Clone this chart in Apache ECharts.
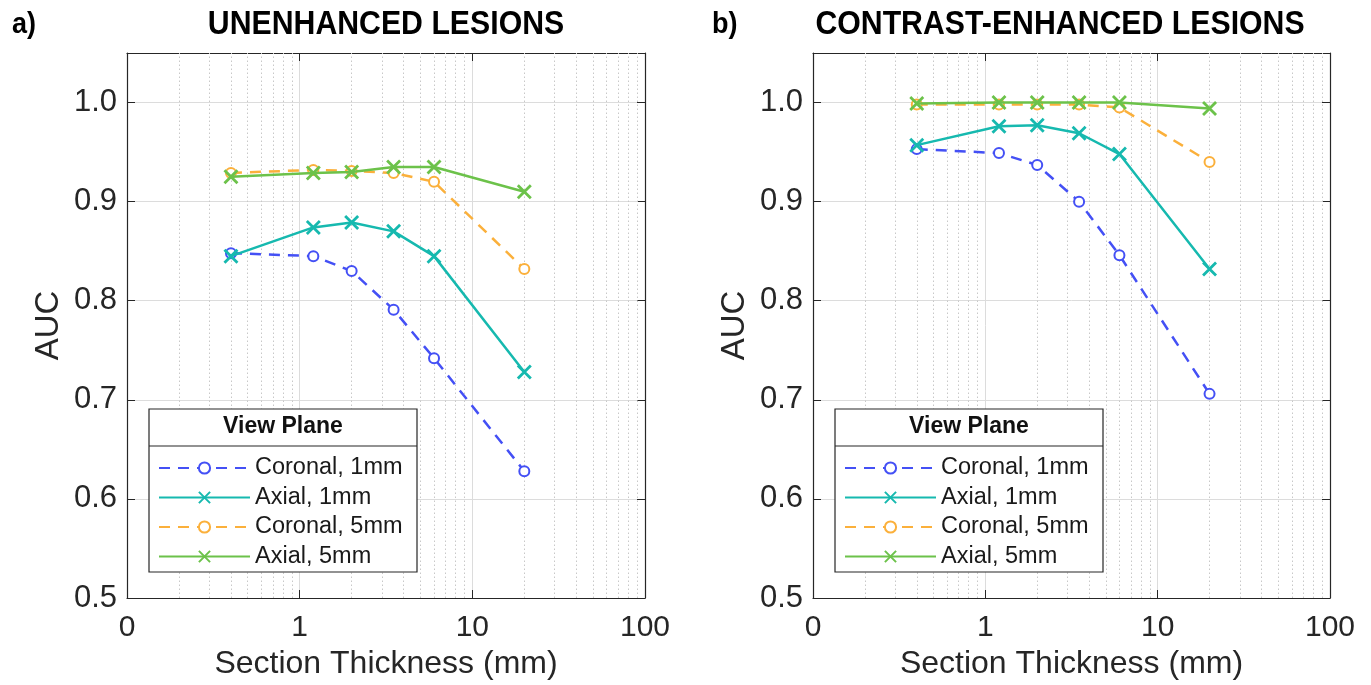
<!DOCTYPE html>
<html>
<head>
<meta charset="utf-8">
<script src="https://cdn.jsdelivr.net/npm/echarts@6/dist/echarts.min.js"></script>
<style>html,body{margin:0;padding:0;background:#fff}#c{width:1371px;height:685px}</style>
</head>
<body>
<div id="c"></div>
<script>
// ---- data ----
const thickness = [0.4, 1.2, 2, 3.5, 6, 20];
const seriesNames = ['Coronal, 1mm', 'Axial, 1mm', 'Coronal, 5mm', 'Axial, 5mm'];
const unenhCoronal1 = [0.848, 0.845, 0.830, 0.791, 0.742, 0.628];
const unenhAxial1   = [0.845, 0.874, 0.879, 0.870, 0.845, 0.728];
const unenhCoronal5 = [0.929, 0.932, 0.931, 0.929, 0.920, 0.832];
const unenhAxial5   = [0.925, 0.929, 0.930, 0.935, 0.935, 0.910];
const contCoronal1  = [0.953, 0.949, 0.937, 0.900, 0.846, 0.706];
const contAxial1    = [0.957, 0.976, 0.977, 0.969, 0.948, 0.832];
const contCoronal5  = [0.998, 0.998, 0.998, 0.998, 0.995, 0.940];
const contAxial5    = [0.999, 1.000, 1.000, 1.000, 1.000, 0.994];
const minorTicks = [0.2,0.3,0.4,0.5,0.6,0.7,0.8,0.9,2,3,4,5,6,7,8,9,20,30,40,50,60,70,80,90];
const panelTitles = ['UNENHANCED LESIONS', 'CONTRAST-ENHANCED LESIONS'];
const panelLetters = ['a)', 'b)'];
const xTitle = 'Section Thickness (mm)';
const yTitle = 'AUC';
const legendTitle = 'View Plane';

// ---- style ----
const FONT = "'Liberation Sans', Arial, Helvetica, sans-serif";
const colors = ['#4450F5', '#16B9AF', '#FBB03B', '#6CC24A'];
const CROSS = 'path://M0,0L10,10M10,0L0,10';
const grids = [
  {left: 127, top: 53, width: 518, height: 547},
  {left: 813, top: 53, width: 517, height: 547}
];
const panelData = [
  [unenhCoronal1, unenhAxial1, unenhCoronal5, unenhAxial5],
  [contCoronal1, contAxial1, contCoronal5, contAxial5]
];

const xAxes = [], yAxes = [], series = [], legends = [], graphics = [];
grids.forEach((g, p) => {
  const xi = p * 2, yi = p * 2;
  xAxes.push({
    type: 'log', logBase: 10, min: 0.1, max: 100, gridIndex: p,
    name: xTitle, nameLocation: 'middle', nameGap: 50,
    nameTextStyle: {fontFamily: FONT, fontSize: 32, color: '#262626'},
    axisLine: {lineStyle: {color: '#262626', width: 1.2}},
    axisTick: {inside: true, length: 8, lineStyle: {color: '#262626'}},
    axisLabel: {fontFamily: FONT, fontSize: 30, color: '#262626', margin: 15,
      formatter: v => v < 0.5 ? '0' : String(Math.round(v))},
    splitLine: {show: true, lineStyle: {color: '#dcdcdc', width: 1}}
  });
  xAxes.push({
    type: 'log', logBase: 10, min: 0.1, max: 100, gridIndex: p, position: 'top',
    axisLine: {lineStyle: {color: '#262626', width: 1.2}},
    axisTick: {inside: true, length: 8, lineStyle: {color: '#262626'}},
    axisLabel: {show: false}, splitLine: {show: false}
  });
  yAxes.push({
    type: 'value', min: 0.5, max: 1.05, interval: 0.1, gridIndex: p,
    name: yTitle, nameLocation: 'middle', nameGap: 62,
    nameTextStyle: {fontFamily: FONT, fontSize: 33, color: '#262626'},
    axisLine: {show: true, lineStyle: {color: '#262626', width: 1.2}},
    axisTick: {show: true, inside: true, length: 8, lineStyle: {color: '#262626'}},
    axisLabel: {fontFamily: FONT, fontSize: 31, color: '#262626', margin: 10,
      formatter: v => v > 1.001 ? '' : v.toFixed(1)},
    splitLine: {show: true, lineStyle: {color: '#dcdcdc', width: 1}}
  });
  yAxes.push({
    type: 'value', min: 0.5, max: 1.05, interval: 0.1, gridIndex: p, position: 'right',
    axisLine: {show: true, lineStyle: {color: '#262626', width: 1.2}},
    axisTick: {show: true, inside: true, length: 8, lineStyle: {color: '#262626'}},
    axisLabel: {show: false}, splitLine: {show: false}
  });
  // minor dotted grid lines via library scale
  series.push({
    type: 'line', xAxisIndex: xi, yAxisIndex: yi, data: [], silent: true,
    markLine: {
      silent: true, symbol: ['none', 'none'], label: {show: false},
      lineStyle: {color: '#c8c8c8', width: 1, type: [1.5, 2.5]},
      data: minorTicks.map(v => ({xAxis: v})), animation: false
    }
  });
  panelData[p].forEach((arr, k) => {
    const isCor = k % 2 === 0;
    series.push({
      name: seriesNames[k], type: 'line', xAxisIndex: xi, yAxisIndex: yi,
      data: thickness.map((t, i) => [t, arr[i]]),
      symbol: isCor ? 'emptyCircle' : CROSS,
      symbolSize: isCor ? 10 : 13,
      lineStyle: {color: colors[k], width: 2.5, type: isCor ? [11, 8] : 'solid'},
      itemStyle: isCor ? {color: colors[k], borderColor: colors[k], borderWidth: 2.2}
                       : {color: colors[k], borderColor: colors[k], borderWidth: 2.8},
      z: 5 + (k === 1 || k === 3 ? 1 : 0)
    });
  });
  // legend box
  const bx = g.left + 22, by = 409, bw = 268, bh = 163;
  graphics.push({type: 'rect', z: 50, shape: {x: bx, y: by, width: bw, height: bh},
    style: {fill: '#fff', stroke: '#262626', lineWidth: 1.2}});
  graphics.push({type: 'line', z: 51, shape: {x1: bx, y1: 446, x2: bx + bw, y2: 446},
    style: {stroke: '#262626', lineWidth: 1.2}});
  graphics.push({type: 'text', z: 51, x: bx + bw / 2, y: 427,
    style: {text: legendTitle, fontFamily: FONT, fontSize: 23, fontWeight: 'bold', fill: '#111',
      align: 'center', verticalAlign: 'middle'}});
  legends.push({
    data: seriesNames, orient: 'vertical', left: bx + 4, top: 451, z: 60,
    itemWidth: 91, itemHeight: 14, itemGap: 5.5, selectedMode: false,
    textStyle: {fontFamily: FONT, fontSize: 23.5, color: '#1a1a1a', lineHeight: 23}
  });
  // panel titles
  const cx = p === 0 ? 386 : 1060;
  graphics.push({type: 'text', x: cx, y: 25, scaleX: 0.89,
    style: {text: panelTitles[p], fontFamily: FONT, fontSize: 34, fontWeight: 'bold', fill: '#000',
      align: 'center', verticalAlign: 'middle'}});
  graphics.push({type: 'text', x: p === 0 ? 12 : 712, y: 25, scaleX: 0.9,
    style: {text: panelLetters[p], fontFamily: FONT, fontSize: 30, fontWeight: 'bold', fill: '#000',
      align: 'left', verticalAlign: 'middle'}});
});

const chart = echarts.init(document.getElementById('c'), null, {renderer: 'canvas'});
chart.setOption({
  animation: false,
  backgroundColor: '#fff',
  grid: grids.map(g => Object.assign({containLabel: false}, g)),
  xAxis: xAxes, yAxis: yAxes, series: series, legend: legends, graphic: graphics
});
</script>
</body>
</html>
